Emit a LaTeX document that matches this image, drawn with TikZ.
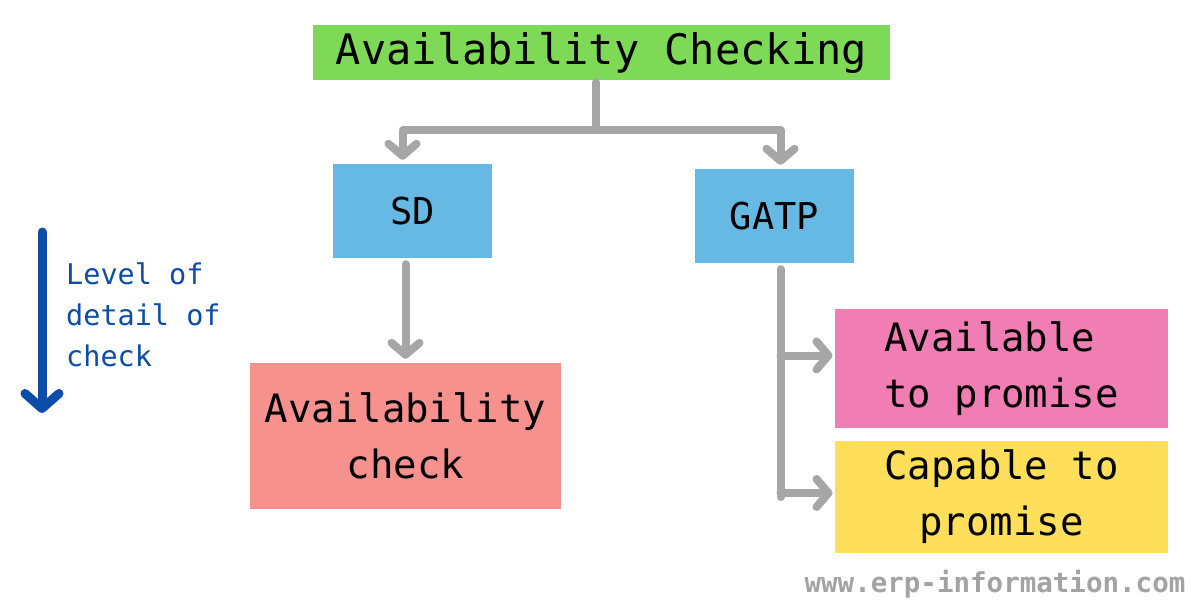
\documentclass[tikz,border=0pt]{standalone}
\usepackage{fontspec}
\setmonofont{DejaVu Sans Mono}
\usetikzlibrary{arrows.meta, positioning}

\definecolor{topgreen}{HTML}{7ED957}
\definecolor{modblue}{HTML}{66B9E2}
\definecolor{sdred}{HTML}{F7918E}
\definecolor{atppink}{HTML}{F07EB4}
\definecolor{ctpyellow}{HTML}{FFDE59}
\definecolor{linegray}{HTML}{A6A6A6}
\definecolor{levelblue}{HTML}{0B4DA8}
\definecolor{markgray}{HTML}{A3A3A3}

\begin{document}
\begin{tikzpicture}[
  x=1pt, y=-1pt,
  box/.style={inner sep=0pt, font=\ttfamily\fontsize{39}{56}\selectfont},
  chev/.style={-{Straight Barb[length=12pt,width=28pt,round]}},
  conn/.style={draw=linegray, line width=8pt, line cap=round, line join=round}
]
\fill[white] (0,0) rectangle (1200,600);
\useasboundingbox (0,0) rectangle (1200,600);

% boxes
\node[box, fill=topgreen, minimum width=577pt, minimum height=55pt,
  font=\ttfamily\fontsize{42}{50}\selectfont] (top) at (601.5,52.5) {Availability Checking};
\node[box, fill=modblue, minimum width=159pt, minimum height=94pt,
  font=\ttfamily\fontsize{37}{50}\selectfont] (sd) at (412.5,211) {SD};
\node[box, fill=modblue, minimum width=159pt, minimum height=94pt,
  font=\ttfamily\fontsize{37}{50}\selectfont] (gatp) at (774.5,216) {GATP};
\node[box, fill=sdred, minimum width=311pt, minimum height=146pt, align=center] (check) at (405.5,436) {Availability\\check};
\node[box, fill=atppink, minimum width=333pt, minimum height=119pt, align=left] (atp) at (1001.5,368.5) {Available\\to promise};
\node[box, fill=ctpyellow, minimum width=333pt, minimum height=112pt, align=center] (ctp) at (1001.5,497) {Capable to\\promise};

% connectors
\draw[conn] (top.south) ++(-6,2) -- ++(0,48) coordinate (split);
\draw[conn, chev] (split) -| ([xshift=-10pt, yshift=4pt]sd.north);
\draw[conn, chev] (split) -| ([xshift=6pt, yshift=4pt]gatp.north);
\draw[conn, chev] ([xshift=-7pt, yshift=-6pt]sd.south) -- ([xshift=-7pt, yshift=4pt]sd.south |- check.north);
\draw[conn] ([xshift=6pt, yshift=-6pt]gatp.south) coordinate (gdown) -- (gdown |- ctp.west);
\draw[conn, chev] (gdown |- atp.west) ++(0,-13) -- ++(52,0);
\draw[conn, chev] (gdown |- ctp.west) ++(0,-4) -- ++(52,0);

% level of detail
\coordinate (lvtop) at (42,232);
\coordinate (lvbot) at (42,413);
\draw[draw=levelblue, line width=9pt, line cap=round, line join=round,
  -{Straight Barb[length=15pt,width=34pt,round]}] (lvtop) -- (lvbot);
\node[inner sep=0pt, anchor=west, align=left, text=levelblue,
  font=\ttfamily\fontsize{28.5}{41}\selectfont] (level) at (66,315) {Level of\\detail of\\check};

% watermark
\node[inner sep=0pt, text=markgray, font=\ttfamily\bfseries\fontsize{27.5}{30}\selectfont] (mark) at (995,584) {www.erp-information.com};
\end{tikzpicture}
\end{document}
